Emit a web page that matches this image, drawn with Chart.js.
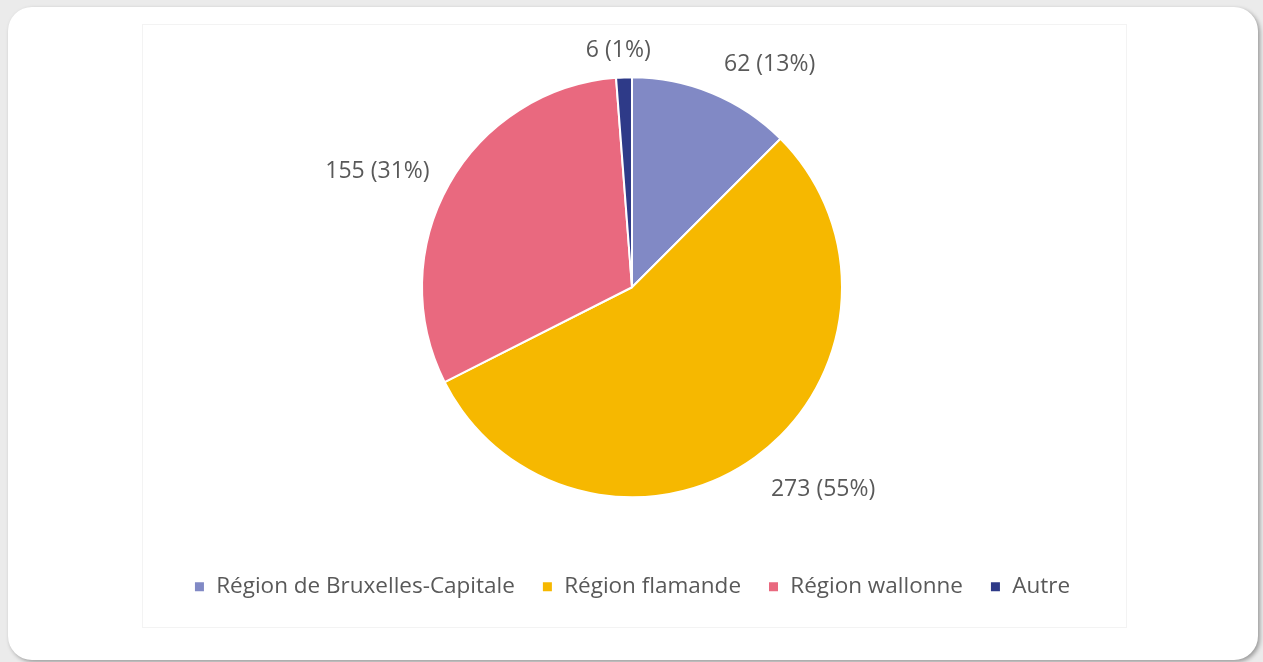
<!DOCTYPE html>
<html lang="fr">
<head>
<meta charset="utf-8">
<title>Répartition par région</title>
<script src="https://cdn.jsdelivr.net/npm/chart.js@4.4.1/dist/chart.umd.min.js"></script>
<style>
  html, body { margin: 0; padding: 0; }
  body {
    width: 1263px; height: 662px; overflow: hidden;
    background: #ebebeb;
    font-family: "Open Sans", "Noto Sans", sans-serif;
  }
  .card {
    position: absolute; left: 8px; top: 7px; width: 1250px; height: 653px;
    background: #fff; border-radius: 24px;
    box-shadow: 2px 2px 4px rgba(0,0,0,0.35);
  }
  .panel {
    position: absolute; left: 134px; top: 17px; width: 985px; height: 604px;
    border: 1px solid #f3f3f3; box-sizing: border-box;
  }
  .panel canvas { display: block; }
</style>
</head>
<body>
<div class="card">
  <div class="panel"><canvas id="regionChart" width="985" height="604"></canvas></div>
</div>
<script>
const regions = ['Région de Bruxelles-Capitale', 'Région flamande', 'Région wallonne', 'Autre'];
const counts = [62, 273, 155, 6];
const percents = [13, 55, 31, 1];
const sliceColors = ['#8189C5', '#F6B800', '#E9697F', '#2E3A88'];

const textColor = '#595959';
const fontFamily = '"Open Sans", "Noto Sans", sans-serif';
const labelSize = 23;
const legendSize = 22.5;

// draws "n (p%)" outside each slice, Excel style
const outsideLabels = {
  id: 'outsideLabels',
  afterDatasetsDraw(chart) {
    const ctx = chart.ctx;
    const meta = chart.getDatasetMeta(0);
    ctx.save();
    ctx.font = labelSize + 'px ' + fontFamily;
    ctx.fillStyle = textColor;
    ctx.textBaseline = 'middle';
    meta.data.forEach((arc, i) => {
      const p = arc.getProps(['x', 'y', 'startAngle', 'endAngle', 'outerRadius'], true);
      const mid = (p.startAngle + p.endAngle) / 2;
      const r = p.outerRadius + 20;
      const cos = Math.cos(mid), sin = Math.sin(mid);
      let px = p.x + cos * r;
      let py = p.y + sin * r + 4;
      const text = counts[i] + ' (' + percents[i] + '%)';
      const h = 26;
      if (cos > 0.1) { ctx.textAlign = 'left'; px += 4; }
      else if (cos < -0.1) { ctx.textAlign = 'right'; px -= 2; }
      else { ctx.textAlign = 'center'; px -= 5; py += 4; }
      py += sin * (h / 2 + 2);
      ctx.fillText(text, px, py);
    });
    ctx.restore();
  }
};

new Chart(document.getElementById('regionChart'), {
  type: 'pie',
  data: {
    labels: regions,
    datasets: [{
      data: counts,
      backgroundColor: sliceColors,
      borderColor: '#ffffff',
      borderWidth: 2
    }]
  },
  options: {
    responsive: false,
    animation: false,
    radius: 210,
    layout: { padding: { top: 1, bottom: 21, left: 0, right: 7 } },
    plugins: {
      tooltip: { enabled: false },
      legend: {
        position: 'bottom',
        labels: {
          color: textColor,
          font: { family: fontFamily, size: legendSize },
          boxWidth: 11,
          boxHeight: 11,
          padding: 27
        }
      }
    }
  },
  plugins: [outsideLabels]
});
</script>
</body>
</html>
